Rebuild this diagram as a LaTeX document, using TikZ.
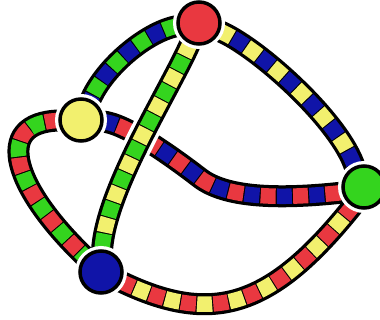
\documentclass[tikz,border=0pt]{standalone}
\usetikzlibrary{backgrounds}
\definecolor{kred}{RGB}{233,56,64}
\definecolor{kyellow}{RGB}{242,240,110}
\definecolor{kgreen}{RGB}{52,212,30}
\definecolor{kblue}{RGB}{16,20,168}
\tikzset{
  knode/.style={circle, draw=black, line width=3.5pt, minimum size=42pt, inner sep=0pt, outer sep=0pt, preaction={draw=white, line width=10pt}},
  bandbase/.style={draw=black, line width=22pt},
  bandA/.style={draw=#1, line width=15.5pt, dash pattern=on 15pt off 17.4pt},
  bandB/.style={draw=#1, line width=15.5pt, dash pattern=on 15pt off 17.4pt, dash phase=16.2pt},
  gapband/.style={draw=white, line width=29pt},
}
\newcommand\kband[3]{\path[bandbase] #1; \path[bandA=#2] #1; \path[bandB=#3] #1;}
\begin{document}
\begin{tikzpicture}[x=1pt,y=-1pt]
\useasboundingbox (0,0) rectangle (380,320);
\node[knode, fill=kred] (r) at (199,23) {};
\node[knode, fill=kyellow] (y) at (81,120) {};
\node[knode, fill=kgreen] (g) at (364,187) {};
\node[knode, fill=kblue] (b) at (101,272) {};
\begin{scope}[on background layer]
\kband{(r) .. controls (150,30) and (105,65) .. (y.65)}{kgreen}{kblue}
\kband{(r) .. controls (255,45) and (340,120) .. (g.115)}{kyellow}{kblue}
\kband{(y) .. controls (-10,122) and (15,190) .. (b)}{kred}{kgreen}
\kband{(b) .. controls (211,325) and (270,310) .. (g.240)}{kred}{kyellow}
\kband{(y) .. controls (125,123) and (170,155) .. (200,178) .. controls (225,197) and (275,200) .. (g.195)}{kblue}{kred}
\begin{scope}
\clip (141,140) circle (30);
\path[gapband] (r) .. controls (170,90) and (105,190) .. (b);
\end{scope}
\kband{(r) .. controls (170,90) and (105,190) .. (b)}{kyellow}{kgreen}
\end{scope}
\end{tikzpicture}
\end{document}
